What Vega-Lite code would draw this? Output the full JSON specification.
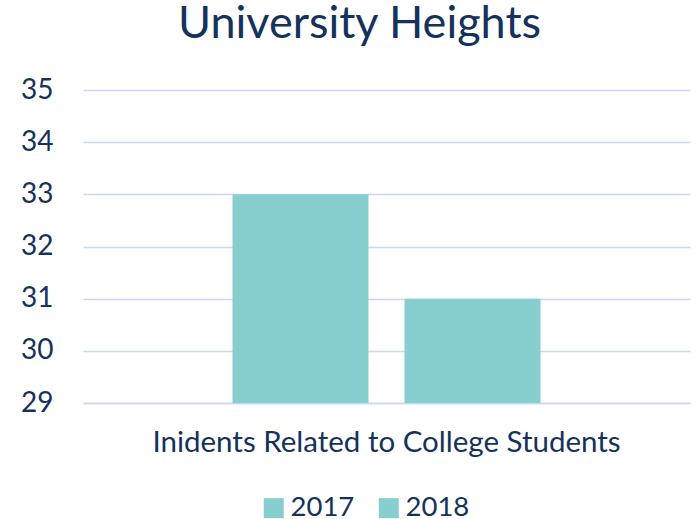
{
  "$schema": "https://vega.github.io/schema/vega-lite/v6.json",
  "width": 607,
  "height": 313,
  "autosize": {"type": "none"},
  "padding": {"left": 83, "top": 90, "right": 7, "bottom": 116},
  "title": {
    "text": "University Heights",
    "fontSize": 45,
    "font": "Lato",
    "fontWeight": "normal",
    "color": "#14325C",
    "anchor": "middle",
    "baseline": "alphabetic",
    "offset": -7,
    "dx": -27
  },
  "data": {
    "values": [
      {"category": "Inidents Related to College Students", "year": "2017", "value": 33},
      {"category": "Inidents Related to College Students", "year": "2018", "value": 31}
    ]
  },
  "mark": {"type": "bar"},
  "encoding": {
    "x": {
      "field": "category",
      "type": "nominal",
      "title": null,
      "scale": {"paddingInner": 0, "paddingOuter": 0.4854},
      "axis": {
        "labelAngle": 0,
        "ticks": false,
        "domain": true,
        "domainColor": "#C6D9F1",
        "domainWidth": 1.5,
        "labelFontSize": 29.5,
        "labelPadding": 25,
        "labelLimit": 700
      }
    },
    "xOffset": {
      "field": "year",
      "type": "nominal",
      "scale": {"paddingInner": 0.2093, "paddingOuter": 0}
    },
    "y": {
      "field": "value",
      "type": "quantitative",
      "title": null,
      "scale": {"domain": [29, 35], "zero": false, "nice": false},
      "axis": {
        "values": [29, 30, 31, 32, 33, 34, 35],
        "ticks": false,
        "domain": false,
        "gridColor": "#C6D9F1",
        "gridWidth": 1.5,
        "labelFontSize": 28,
        "labelPadding": 30
      }
    },
    "y2": {"datum": 29},
    "color": {
      "field": "year",
      "type": "nominal",
      "scale": {"range": ["#87CECF", "#87CECF"]},
      "legend": {
        "title": null,
        "orient": "none",
        "direction": "horizontal",
        "legendX": 177,
        "legendY": 404,
        "symbolType": "square",
        "symbolSize": 400,
        "symbolStrokeWidth": 0,
        "labelFontSize": 27.5,
        "labelOffset": 3,
        "columnPadding": 20
      }
    }
  },
  "config": {
    "view": {"stroke": null},
    "font": "Lato",
    "axis": {"labelColor": "#14325C", "labelFont": "Lato"},
    "legend": {"labelColor": "#14325C", "labelFont": "Lato"}
  }
}
